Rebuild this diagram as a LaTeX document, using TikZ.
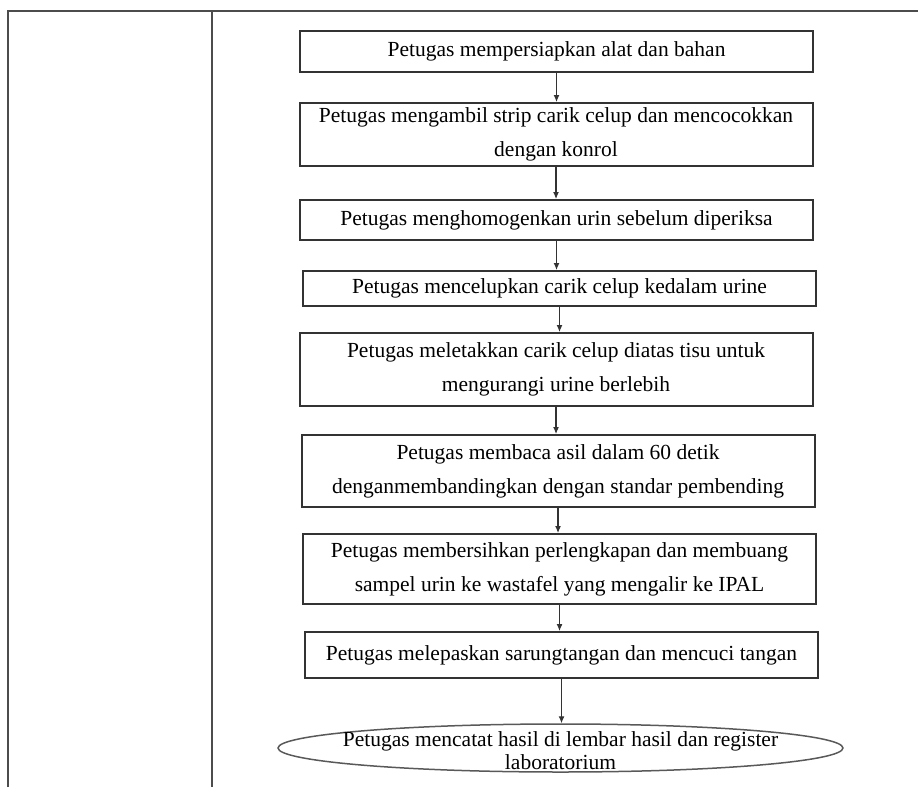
\documentclass[tikz,border=0pt]{standalone}
\usepackage{fontspec}
\setmainfont{Liberation Serif}
\usetikzlibrary{arrows.meta}
\usetikzlibrary{shapes.geometric}

\begin{document}
\begin{tikzpicture}[x=1pt,y=-1pt,
    procbox/.style={draw=black!80, line width=2pt, minimum width=513pt, inner sep=2pt,
        align=center, font=\fontsize{21.5}{34}\selectfont},
    endoval/.style={ellipse, draw=black!65, line width=1.5pt, minimum width=565pt,
        minimum height=48pt, inner sep=0pt},
    flowarrow/.style={draw=black!80, line width=1.1pt, -{Latex[length=7pt,width=6pt]}}]
    \useasboundingbox (0,0) rectangle (918,787);
    % table lines
    \draw[black!70, line width=2pt] (8,787) -- (8,11) -- (918,11);
    \draw[black!70, line width=2pt] (212,11) -- (212,787);
    % steps
    \node[procbox, minimum height=41pt] (s1) at (556.5,51.5) {Petugas mempersiapkan alat dan bahan};
    \node[procbox, minimum height=63pt] (s2) at (556,134.5) {Petugas mengambil strip carik celup dan mencocokkan\\dengan konrol};
    \node[procbox, minimum height=40pt] (s3) at (556.5,220) {Petugas menghomogenkan urin sebelum diperiksa};
    \node[procbox, minimum height=35pt] (s4) at (559.5,288.5) {Petugas mencelupkan carik celup kedalam urine};
    \node[procbox, minimum height=73pt] (s5) at (556,369.5) {Petugas meletakkan carik celup diatas tisu untuk\\mengurangi urine berlebih};
    \node[procbox, minimum height=72pt] (s6) at (558,471) {Petugas membaca asil dalam 60 detik\\denganmembandingkan dengan standar pembending};
    \node[procbox, minimum height=70pt] (s7) at (559.5,569) {Petugas membersihkan perlengkapan dan membuang\\sampel urin ke wastafel yang mengalir ke IPAL};
    \node[procbox, minimum height=46pt] (s8) at (561.5,655) {Petugas melepaskan sarungtangan dan mencuci tangan};
    \node[endoval] (s9) at (560.5,748) {};
    \node[align=center, font=\fontsize{21.5}{23}\selectfont] (s9text) at (560.5,751) {Petugas mencatat hasil di lembar hasil dan register\\laboratorium};
    % arrows
    \foreach \a/\b in {s1/s2,s2/s3,s3/s4,s4/s5,s5/s6,s6/s7,s7/s8,s8/s9}
        \draw[flowarrow] (\a.south) -- (\a.south |- \b.north);
\end{tikzpicture}
\end{document}
